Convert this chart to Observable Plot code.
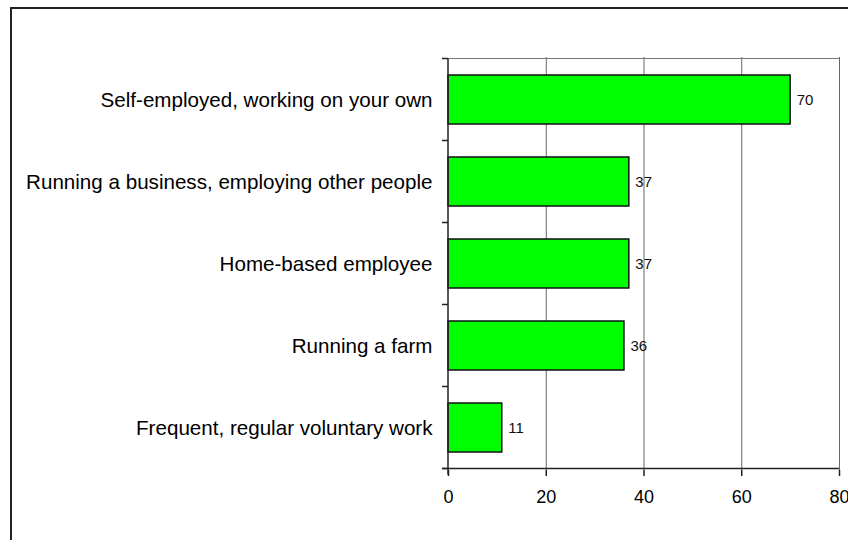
<!DOCTYPE html>
<html>
<head>
<meta charset="utf-8">
<script src="https://cdn.jsdelivr.net/npm/d3@7"></script>
<script src="https://cdn.jsdelivr.net/npm/@observablehq/plot@0.6"></script>
<style>
  html, body { margin: 0; padding: 0; background: #fff; overflow: hidden; }
  #wrap { position: relative; width: 848px; height: 540px; }
  #border { position: absolute; left: 10px; top: 7px; width: 900px; height: 600px;
            border-left: 2px solid #222; border-top: 2px solid #222; pointer-events: none; }
  #chart { position: absolute; left: 0; top: 0; }
</style>
</head>
<body>
<div id="wrap"><div id="chart"></div><div id="border"></div></div>
<script>
const categories = [
  "Self-employed, working on your own",
  "Running a business, employing other people",
  "Home-based employee",
  "Running a farm",
  "Frequent, regular voluntary work"
];
const values = [70, 37, 37, 36, 11];
const xTicks = [0, 20, 40, 60, 80];

const data = categories.map((c, i) => ({category: c, value: values[i]}));

function frameExtras(index, scales, channels, dimensions) {
  const sy = scales.y, sx = scales.x;
  const step = sy.step(), bw = sy.bandwidth();
  const half = (step - bw) / 2;
  const x0 = sx(0), x1 = sx(80);
  const g = d3.create("svg:g");
  const top = sy(categories[0]) - half;
  const bottom = sy(categories[categories.length - 1]) + bw + half;
  // top frame line (gray)
  g.append("line").attr("x1", x0).attr("x2", x1).attr("y1", top).attr("y2", top)
    .attr("stroke", "#777").attr("stroke-width", 1);
  // bottom axis line (black)
  g.append("line").attr("x1", x0 - 6).attr("x2", x1).attr("y1", bottom).attr("y2", bottom)
    .attr("stroke", "#222").attr("stroke-width", 1.5);
  // left axis line
  g.append("line").attr("x1", x0).attr("x2", x0).attr("y1", top).attr("y2", bottom + 6)
    .attr("stroke", "#222").attr("stroke-width", 1.5);
  // category boundary ticks
  const bounds = categories.map(c => sy(c) - half).concat([bottom]);
  for (const b of bounds) {
    g.append("line").attr("x1", x0 - 6).attr("x2", x0).attr("y1", b).attr("y2", b)
      .attr("stroke", "#222").attr("stroke-width", 1.5);
  }
  return g.node();
}

const chart = Plot.plot({
  width: 848,
  height: 540,
  marginLeft: 448,
  marginRight: 9,
  marginTop: 57,
  marginBottom: 70,
  style: {fontFamily: "'Liberation Sans', Arial, sans-serif", background: "transparent", color: "#000"},
  x: {domain: [0, 80], ticks: xTicks},
  y: {domain: categories, paddingInner: 0.4, paddingOuter: 0.2},
  marks: [
    Plot.gridX(xTicks.slice(1), {stroke: "#666", strokeOpacity: 1, strokeWidth: 1}),
    Plot.barX(data, {x: "value", y: "category", fill: "#00ff00", stroke: "#111", strokeWidth: 1.5}),
    Plot.text(data, {x: "value", y: "category", text: d => String(d.value), dx: 6,
      textAnchor: "start", fontSize: 15, fill: "#111"}),
    Plot.axisX({ticks: xTicks, tickSize: 6, tickPadding: 14, fontSize: 18, stroke: "#222", strokeWidth: 1.5, label: null}),
    Plot.axisY({tickSize: 0, tickPadding: 16, fontSize: 20.6, label: null}),
    frameExtras
  ]
});
document.getElementById("chart").appendChild(chart);
</script>
</body>
</html>
